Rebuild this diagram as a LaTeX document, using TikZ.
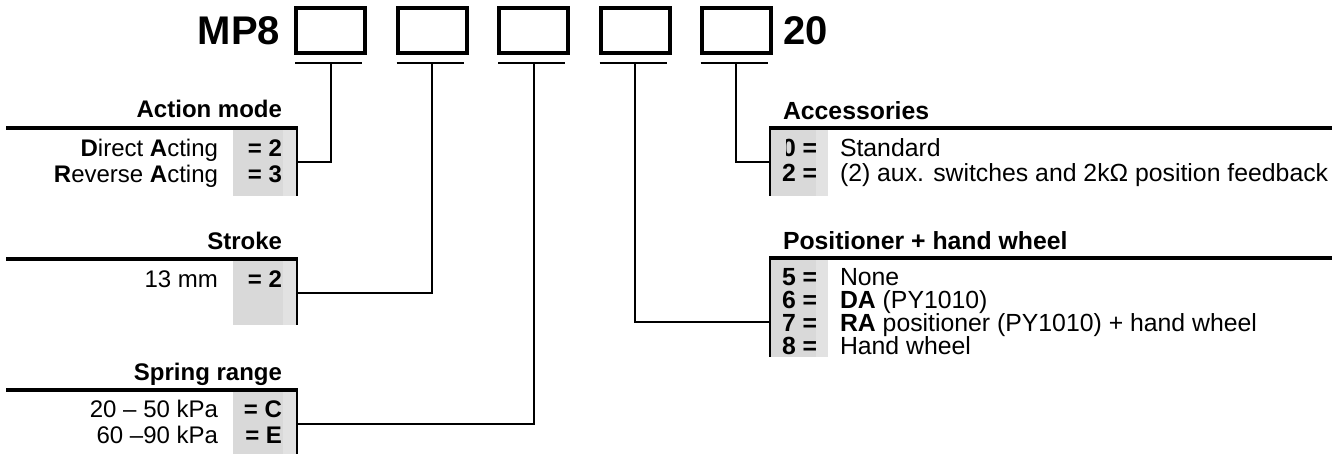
\documentclass[tikz,border=0pt]{standalone}
\usepackage{fontspec}
\setmainfont{Liberation Sans}
\definecolor{gcell}{HTML}{D9D9D9}
\definecolor{gcellb}{HTML}{E2E2E2}
\begin{document}
\begin{tikzpicture}[x=1pt,y=-1pt,
  every node/.style={inner sep=0pt, outer sep=0pt},
  codebox/.style={draw, line width=4pt, minimum width=69pt, minimum height=45pt},
  uline/.style={line width=2pt},
  conn/.style={line width=2pt},
  rule/.style={line width=4pt},
  edge/.style={line width=2pt},
  txt/.style={font=\fontsize{24}{25}\selectfont},
  btxt/.style={font=\fontsize{24}{25}\selectfont\bfseries},
  rtxt/.style={font=\fontsize{24.8}{25}\selectfont},
  rbtxt/.style={font=\fontsize{24.8}{25}\selectfont\bfseries},
  big/.style={font=\fontsize{40}{42}\selectfont\bfseries}]
\useasboundingbox (0,0) rectangle (1332,454);

% heading
\node[big, anchor=base east] (mp) at (280,45) {MP8};
\node[big, anchor=base west] (twenty) at (783,45) {20};
\foreach \i/\x in {1/330.5,2/432,3/533.5,4/635,5/736}{
  \node[codebox] (b\i) at (\x,30.5) {};
  \draw[uline] ([xshift=-1pt,yshift=-10pt]b\i.south west) -- ([xshift=-3pt,yshift=-10pt]b\i.south east);
  \coordinate (u\i) at ([yshift=-10pt]b\i.south);
}

% ---------- Action mode ----------
\fill[gcell] (233,130) rectangle (283,196);
\fill[gcellb] (283,130) rectangle (296,196);
\draw[rule] (6,128.5) -- (298,128.5);
\draw[edge] (297,128.5) -- (297,196);
\node[btxt, anchor=base east] (tact) at (282,118) {Action mode};
\node[txt, anchor=base east] (da) at (218,157) {\textbf{D}irect \textbf{A}cting};
\node[btxt, anchor=base east] (dac) at (282,157) {= 2};
\node[txt, anchor=base east] (ra) at (218,183) {\textbf{R}everse \textbf{A}cting};
\node[btxt, anchor=base east] (rac) at (282,183) {= 3};
\coordinate (eact) at (297,162);

% ---------- Stroke ----------
\fill[gcell] (233,260) rectangle (283,325);
\fill[gcellb] (283,260) rectangle (296,325);
\draw[rule] (6,259) -- (298,259);
\draw[edge] (297,259) -- (297,325);
\node[btxt, anchor=base east] (tstr) at (282,250) {Stroke};
\node[txt, anchor=base east] (s13) at (218,287) {13 mm};
\node[btxt, anchor=base east] (s13c) at (282,287) {= 2};
\coordinate (estr) at (297,293);

% ---------- Spring range ----------
\fill[gcell] (233,391) rectangle (283,454);
\fill[gcellb] (283,391) rectangle (296,454);
\draw[rule] (6,389.5) -- (298,389.5);
\draw[edge] (297,389.5) -- (297,454);
\node[btxt, anchor=base east] (tspr) at (282,380) {Spring range};
\node[txt, anchor=base east] (sp1) at (218,417) {20 -- 50 kPa};
\node[btxt, anchor=base east] (sp1c) at (282,417) {= C};
\node[txt, anchor=base east] (sp2) at (218,443) {60 --90 kPa};
\node[btxt, anchor=base east] (sp2c) at (282,443) {= E};
\coordinate (espr) at (297,424);

% ---------- Accessories ----------
\fill[gcell] (771,130) rectangle (816,196);
\fill[gcellb] (816,130) rectangle (828,196);
\draw[rule] (769,128.5) -- (1332,128.5);
\draw[edge] (770,128.5) -- (770,196);
\node[rbtxt, anchor=base west] (tacc) at (783,120) {Accessories};
\begin{scope}
  \clip (786,132) rectangle (830,161);
  \node[rbtxt, anchor=base west] (a0c) at (782,157) {0 =};
\end{scope}
\node[rtxt, anchor=base west] (a0) at (840,157) {Standard};
\node[rbtxt, anchor=base west] (a2c) at (782,182) {2 =};
\node[rtxt, anchor=base west] (a2) at (840,182) {(2) aux. switches and 2k\symbol{"03A9} position feedback};
\coordinate (eacc) at (770,162);

% ---------- Positioner + hand wheel ----------
\fill[gcell] (771,260) rectangle (816,357);
\fill[gcellb] (816,260) rectangle (828,357);
\draw[rule] (769,258) -- (1332,258);
\draw[edge] (770,258) -- (770,357);
\node[rbtxt, anchor=base west] (tpos) at (783,250) {Positioner + hand wheel};
\node[rbtxt, anchor=base west] (p5c) at (782,285) {5 =};
\node[rtxt, anchor=base west] (p5) at (840,285) {None};
\node[rbtxt, anchor=base west] (p6c) at (782,308) {6 =};
\node[rtxt, anchor=base west] (p6) at (840,308) {\textbf{DA} (PY1010)};
\node[rbtxt, anchor=base west] (p7c) at (782,331) {7 =};
\node[rtxt, anchor=base west] (p7) at (840,331) {\textbf{RA} positioner (PY1010) + hand wheel};
\node[rbtxt, anchor=base west] (p8c) at (782,354) {8 =};
\node[rtxt, anchor=base west] (p8) at (840,354) {Hand wheel};
\coordinate (epos) at (770,322);

% ---------- connectors ----------
\draw[conn] (u1) |- (eact);
\draw[conn] (u2) |- (estr);
\draw[conn] (u3) |- (espr);
\draw[conn] (u4) |- (epos);
\draw[conn] (u5) |- (eacc);
\end{tikzpicture}
\end{document}
